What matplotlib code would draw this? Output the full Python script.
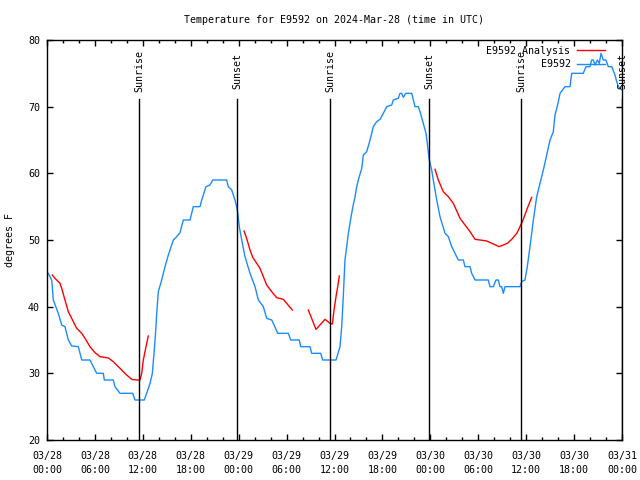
import numpy as np
import matplotlib
matplotlib.use('Agg')
import matplotlib.pyplot as plt
import matplotlib.transforms as mtransforms

plt.rcParams['font.family'] = 'DejaVu Sans Mono'
plt.rcParams['font.size'] = 7.2

# Observations (hours since 2024-03-28 00:00 UTC, degrees F)
obs_hours = [0.16, 0.59, 0.79, 1.41, 1.84, 2.25, 2.67, 3.09, 3.92, 4.35, 5.38, 5.80, 6.22,
             7.05, 7.18, 8.30, 8.51, 9.14, 10.73, 11.02, 12.18, 12.48, 12.90, 13.19, 13.40,
             13.59, 13.74, 13.94, 14.36, 14.78, 15.19, 15.82, 16.24, 16.65, 17.07, 17.91,
             18.32, 19.16, 19.37, 19.91, 20.41, 20.75, 22.50, 22.70, 23.13, 23.54, 23.83,
             24.08, 24.38, 24.79, 25.42, 26.05, 26.46, 27.09, 27.51, 28.14, 28.34, 28.89,
             30.22, 30.52, 31.59, 31.77, 32.93, 33.14, 34.27, 34.52, 36.19, 36.69, 36.90,
             37.10, 37.31, 37.53, 37.73, 37.94, 38.15, 38.35, 38.57, 38.78, 38.98, 39.41,
             39.61, 40.03, 40.45, 40.86, 41.28, 41.70, 42.11, 42.54, 43.16, 43.36, 43.99,
             44.20, 44.41, 44.62, 44.92, 45.67, 46.08, 46.49, 46.71, 47.12, 47.46, 47.62,
             47.87, 48.17, 48.37, 48.80, 49.21, 49.84, 50.25, 50.68, 51.09, 51.50, 52.13,
             52.34, 52.97, 53.18, 53.60, 55.26, 55.47, 55.89, 56.22, 56.51, 56.72, 56.94,
             57.14, 57.35, 59.23, 59.44, 59.85, 60.14, 60.48, 60.90, 61.32, 61.73, 62.15,
             62.57, 62.99, 63.40, 63.61, 63.83, 64.03, 64.24, 64.86, 65.49, 65.70, 67.15,
             67.49, 67.99, 68.20, 68.41, 68.62, 68.91, 69.16, 69.37, 69.66, 69.99, 70.28,
             70.71, 71.12, 71.34, 71.54, 72.00]
obs_temps = [45, 44, 41, 39, 37.25, 37, 35, 34.1, 34, 32, 32, 31, 30,
             30, 29, 29, 28, 27, 27, 26, 26, 27, 28.5, 30, 33,
             36, 39, 42.25, 44, 46, 47.75, 50, 50.5, 51.1, 53, 53,
             55, 55, 56, 58, 58.25, 59, 59, 58, 57.5, 56, 54.5,
             52, 50, 47.5, 45, 43, 41, 40, 38.25, 38, 37.5, 36,
             36, 35, 35, 34, 34, 33, 33, 32, 32, 34, 37,
             41.5, 47, 49, 51, 52.5, 54, 55.25, 56.5, 58, 59, 60.75,
             62.75, 63.25, 65, 67, 67.75, 68.1, 69, 70, 70.25, 71, 71.25,
             72, 72, 71.4, 72, 72, 70, 70, 69.25, 67.5, 66, 64.5,
             62, 60.5, 59, 56, 53.5, 51, 50.5, 49, 48, 47, 47,
             46, 46, 45, 44, 44, 43, 43, 44, 44, 43, 43,
             42, 43, 43, 43.75, 44, 46, 49, 53, 56.5, 58.5, 60.5,
             62.75, 65, 66.25, 68.75, 69.75, 70.75, 72, 73, 73, 75, 75,
             76, 76, 77, 77, 76.25, 77, 76.5, 78, 77, 77, 76,
             76, 74.75, 73.75, 73, 72.5]

# Analysis (NaN marks gaps)
ana_hours = [0.66, 1.00, 1.63, 1.84, 2.25, 2.67, 3.09, 3.72, 4.35, 4.76, 5.38, 6.01, 6.64,
             7.68, 8.30, 9.14, 9.98, 10.61, 11.23, 11.65, 11.86, 12.06, 12.40, 12.68,
             np.nan,
             24.67, 25.00, 25.42, 25.76, 26.26, 26.67, 27.09, 27.51, 28.14, 28.76, 29.59,
             30.01, 30.72,
             np.nan,
             32.72, 33.68, 34.18, 34.81, 35.44, 35.73, 35.94, 36.19, 36.40, 36.60,
             np.nan,
             48.59, 49.00, 49.62, 50.25, 50.88, 51.72, 52.34, 52.97, 53.60, 54.22, 55.06,
             55.89, 56.60, 57.14, 57.64, 58.19, 58.82, 59.23, 59.64, 60.14, 60.69]
ana_temps = [44.75, 44.25, 43.5, 42.75, 41, 39.25, 38.25, 36.75, 36, 35.25, 34, 33.1, 32.5,
             32.3, 31.75, 30.75, 29.75, 29.1, 29, 29, 30, 32, 34, 35.6,
             np.nan,
             51.35, 50.25, 48.5, 47.4, 46.5, 45.75, 44.5, 43.25, 42.25, 41.35, 41.1,
             40.5, 39.5,
             np.nan,
             39.5, 36.6, 37.25, 38.1, 37.5, 37.4, 39.5, 41.5, 43, 44.6,
             np.nan,
             60.6, 59, 57.25, 56.5, 55.5, 53.25, 52.25, 51.25, 50.1, 50, 49.85,
             49.4, 49, 49.25, 49.5, 50.1, 51, 52, 53.1, 54.75, 56.4]

sun_hours = [11.55, 23.82, 35.48, 47.87, 59.35, 72.0]
sun_labels = ['Sunrise', 'Sunset', 'Sunrise', 'Sunset', 'Sunrise', 'Sunset']

tick_hours = list(range(0, 73, 6))
tick_labels = ['03/28\n00:00', '03/28\n06:00', '03/28\n12:00', '03/28\n18:00',
               '03/29\n00:00', '03/29\n06:00', '03/29\n12:00', '03/29\n18:00',
               '03/30\n00:00', '03/30\n06:00', '03/30\n12:00', '03/30\n18:00',
               '03/31\n00:00']

fig = plt.figure(figsize=(6.4, 4.8), dpi=100)
ax = fig.add_axes([47 / 640, 40 / 480, 575 / 640, 400 / 480])

ax.plot(ana_hours, ana_temps, color='#ff0000', lw=1.0, label='E9592 Analysis')
ax.plot(obs_hours, obs_temps, color='#1a8cff', lw=1.0, label='E9592')

trans = mtransforms.blended_transform_factory(ax.transData, ax.transAxes)
for h, lab in zip(sun_hours, sun_labels):
    ax.axvline(h, ymin=0, ymax=0.8525, color='black', lw=1.0)
    ax.text(h, 0.9225, lab, transform=trans, rotation=90, ha='center', va='center')

ax.set_xlim(0, 72)
ax.set_ylim(20, 80)
ax.set_xticks(tick_hours)
ax.set_xticklabels(tick_labels, linespacing=1.5)
ax.set_xticks(range(0, 73, 2), minor=True)
ax.set_yticks(range(20, 81, 10))
ax.tick_params(which='both', direction='in', top=True, right=True, width=1.0)
ax.tick_params(which='major', length=4.5)
ax.tick_params(axis='x', which='major', pad=8)
ax.tick_params(axis='y', which='major', pad=5)
ax.tick_params(which='minor', length=2.2)
for s in ax.spines.values():
    s.set_linewidth(1.0)

ax.set_ylabel('degrees F', fontsize=7.2)
ax.yaxis.set_label_coords(-0.0565, 0.5)
ax.set_title('Temperature for E9592 on 2024-Mar-28 (time in UTC)', fontsize=7.2, pad=12)

ax.legend(loc='upper right', frameon=False, markerfirst=False, handlelength=2.8,
          borderaxespad=0, borderpad=0.6, labelspacing=0.35, handletextpad=0.6,
          bbox_to_anchor=(0.98, 1.0))

fig.savefig('out.png', dpi=100)
